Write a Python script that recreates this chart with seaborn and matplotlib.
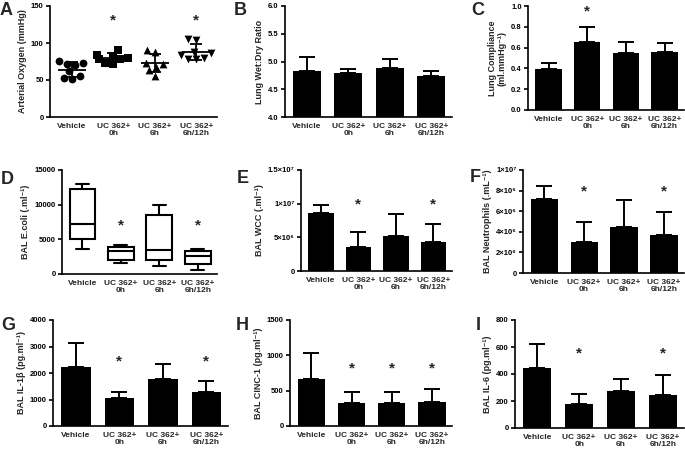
import numpy as np
import pandas as pd
import matplotlib
matplotlib.use('Agg')
import matplotlib.pyplot as plt
import seaborn as sns

groups = ['Vehicle', 'UC 362+\n0h', 'UC 362+\n6h', 'UC 362+\n6h/12h']

# A: arterial oxygen, individual animals + mean/SD
pao2_vehicle = [70, 72, 75, 73, 55, 52, 53, 62]
pao2_0h = [91, 84, 83, 80, 78, 73, 72, 79]
pao2_6h = [91, 88, 73, 68, 63, 56, 72]
pao2_6h12h = [106, 104, 88, 86, 80, 78, 78, 84]
pao2_mean = [64, 80, 73, 88]
pao2_sd = [10, 6, 12, 11]

# B: wet:dry ratio
wd_mean = [4.83, 4.79, 4.88, 4.73]
wd_err = [0.26, 0.08, 0.17, 0.10]

# C: compliance
comp_mean = [0.394, 0.65, 0.545, 0.56]
comp_err = [0.055, 0.145, 0.105, 0.08]

# D: E.coli box plots
ecoli_low = [3650, 1540, 1150, 580]
ecoli_q1 = [5050, 2050, 2000, 1450]
ecoli_med = [7200, 3300, 3500, 2550]
ecoli_q3 = [12250, 3950, 8450, 3300]
ecoli_high = [13050, 4150, 9950, 3650]

# E: WCC
wcc_mean = [8.6e6, 3.5e6, 5.25e6, 4.3e6]
wcc_err = [1.2e6, 2.3e6, 3.15e6, 2.7e6]

# F: neutrophils
neut_mean = [7.2e6, 3.05e6, 4.45e6, 3.65e6]
neut_err = [1.2e6, 1.95e6, 2.65e6, 2.3e6]

# G: IL-1b
il1_mean = [2240, 1070, 1760, 1295]
il1_err = [880, 225, 580, 390]

# H: CINC-1
cinc_mean = [660, 320, 320, 340]
cinc_err = [380, 156, 166, 184]

# I: IL-6
il6_mean = [448, 177, 276, 246]
il6_err = [172, 77, 88, 148]

sns.set_style('ticks')
plt.rcParams['font.family'] = ['Liberation Sans', 'DejaVu Sans']
plt.rcParams['font.weight'] = 'bold'
plt.rcParams['axes.linewidth'] = 1.2

W, H = 685, 450
fig = plt.figure(figsize=(6.85, 4.5), dpi=100)


def add_ax(l, t, r, b):
    return fig.add_axes([l / W, 1 - b / H, (r - l) / W, (b - t) / H])


def style(ax, yticks, ylim, ylabel, yticklabels=None):
    ax.set_ylim(*ylim)
    ax.set_yticks(yticks)
    if yticklabels is not None:
        ax.set_yticklabels(yticklabels)
    ax.set_xlim(-0.53, 3.5)
    ax.set_xticks(range(4))
    ax.set_xticklabels(groups, fontsize=6, fontweight='bold', linespacing=1.1)
    ax.tick_params(axis='x', length=0, pad=4)
    ax.tick_params(axis='y', length=3, width=1.2, labelsize=5.5, pad=1.5, colors='black')
    for lab in ax.get_yticklabels():
        lab.set_fontweight('bold')
    ax.set_xlabel('')
    ax.set_ylabel(ylabel, fontsize=6.5, fontweight='bold', labelpad=3, linespacing=1.1)
    sns.despine(ax=ax)
    for s in ['left', 'bottom']:
        ax.spines[s].set_color('black')


def stars(ax, idx, y):
    for i in idx:
        ax.text(i, y, '*', ha='center', va='center', fontsize=11, fontweight='bold')


def bars(ax, mean, err):
    sns.barplot(x=groups, y=mean, color='black', width=0.68, errorbar=None,
                saturation=1, linewidth=0, ax=ax)
    ax.errorbar(range(4), mean, yerr=[np.zeros(4), err], fmt='none', ecolor='black',
                elinewidth=1.4, capsize=6, capthick=1.4)


def letter(x, y, s):
    fig.text(x / W, 1 - y / H, s, fontsize=13, fontweight='bold', va='baseline', ha='left')


# A
ax = add_ax(50, 6, 217, 117)
pao2 = [pao2_vehicle, pao2_0h, pao2_6h, pao2_6h12h]
markers = ['o', 's', '^', 'v']
for g, vals, m in zip(groups, pao2, markers):
    df = pd.DataFrame({'group': g, 'value': vals})
    sns.swarmplot(data=df, x='group', y='value', order=groups, marker=m, color='black',
                  size=5.6, ax=ax)
ax.hlines(pao2_mean, np.arange(4) - 0.34, np.arange(4) + 0.34, color='black', lw=1.3)
ax.errorbar(range(4), pao2_mean, yerr=pao2_sd, fmt='none', ecolor='black',
            elinewidth=1.3, capsize=4.5, capthick=1.3)
style(ax, [0, 50, 100, 150], (0, 150), 'Arterial Oxygen (mmHg)')
stars(ax, [1, 3], 130)

# B
ax = add_ax(285, 6, 452, 117)
bars(ax, wd_mean, wd_err)
style(ax, [4.0, 4.5, 5.0, 5.5, 6.0], (4, 6), 'Lung Wet:Dry Ratio',
      ['4.0', '4.5', '5.0', '5.5', '6.0'])

# C
ax = add_ax(528, 6, 684, 110)
bars(ax, comp_mean, comp_err)
style(ax, [0, 0.2, 0.4, 0.6, 0.8, 1.0], (0, 1), 'Lung Compliance\n(ml.mmHg⁻¹)',
      ['0.0', '0.2', '0.4', '0.6', '0.8', '1.0'])
stars(ax, [1], 0.95)

# D
ax = add_ax(62, 170, 217, 274)
stats = []
for i in range(4):
    stats.append({'whislo': ecoli_low[i], 'q1': ecoli_q1[i], 'med': ecoli_med[i],
                  'q3': ecoli_q3[i], 'whishi': ecoli_high[i]})
lp = dict(color='black', linewidth=1.5)
ax.bxp(stats, positions=range(4), widths=0.67, showfliers=False, patch_artist=True,
       boxprops=dict(facecolor='white', edgecolor='black', linewidth=1.5),
       whiskerprops=lp, capprops=lp, medianprops=lp)
style(ax, [0, 5000, 10000, 15000], (0, 15000), 'BAL E.coli (.ml⁻¹)')
stars(ax, [1, 3], 7000)

# E
ax = add_ax(301, 170, 452, 271)
bars(ax, wcc_mean, wcc_err)
style(ax, [0, 5e6, 1e7, 1.5e7], (0, 1.5e7), 'BAL WCC (.ml⁻¹)',
      ['0', '5×10⁶', '1×10⁷', '1.5×10⁷'])
stars(ax, [1, 3], 9.85e6)

# F
ax = add_ax(523, 170, 684, 273)
bars(ax, neut_mean, neut_err)
style(ax, [0, 2e6, 4e6, 6e6, 8e6, 1e7], (0, 1e7), 'BAL Neutrophils (.mL⁻¹)',
      ['0', '2×10⁶', '4×10⁶', '6×10⁶', '8×10⁶', '1×10⁷'])
stars(ax, [1, 3], 7.9e6)

# G
ax = add_ax(53, 320, 228, 426)
bars(ax, il1_mean, il1_err)
style(ax, [0, 1000, 2000, 3000, 4000], (0, 4000), 'BAL IL-1β (pg.ml⁻¹)')
stars(ax, [1, 3], 2430)

# H
ax = add_ax(290, 320, 452, 426)
bars(ax, cinc_mean, cinc_err)
style(ax, [0, 500, 1000, 1500], (0, 1500), 'BAL CINC-1 (pg.ml⁻¹)')
stars(ax, [1, 2, 3], 816)

# I
ax = add_ax(515, 320, 684, 428)
bars(ax, il6_mean, il6_err)
style(ax, [0, 200, 400, 600, 800], (0, 800), 'BAL IL-6 (pg.ml⁻¹)')
stars(ax, [1, 3], 553)

letter(0, 15, 'A')
letter(234, 15, 'B')
letter(471, 15, 'C')
letter(1, 184, 'D')
letter(237, 183, 'E')
letter(470, 182, 'F')
letter(1, 330, 'G')
letter(236, 330, 'H')
letter(476, 330, 'I')

fig.savefig('out.png', dpi=100)
